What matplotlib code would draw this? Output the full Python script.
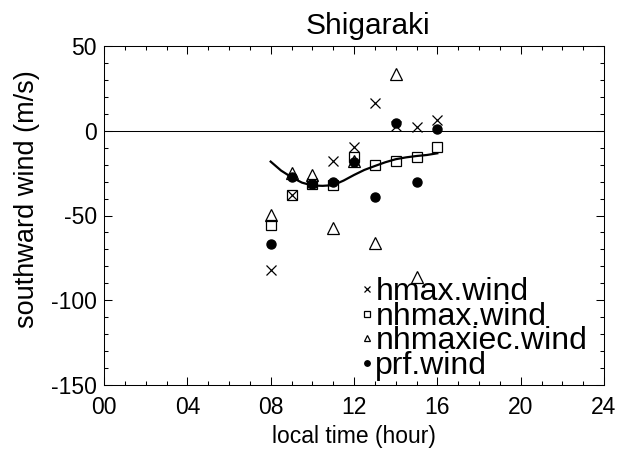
import numpy as np
import matplotlib.pyplot as plt
from matplotlib.ticker import MultipleLocator, FuncFormatter

plt.rcParams['font.family'] = ['Liberation Sans', 'DejaVu Sans']
plt.rcParams['axes.unicode_minus'] = False

# local time of each measurement (hour)
hours = [8, 9, 10, 11, 12, 13, 14, 15, 16]
hmax_wind = [-82, -38, -31, -17.6, -9.4, 16.5, 2.8, 2.0, 6.3]
nhmax_wind = [-55.5, -38, -31.4, -32.1, -15.6, -20.4, -17.6, -15.3, -9.4]
nhmaxiec_wind = [-49.6, -25, -26, -57.4, -18, -66.3, 33.2, -86.5, np.nan]
prf_wind = [-66.6, -27.4, -31.4, -30.0, -18.6, -39.2, 4.7, -30.4, 0.8]

# smoothed mean curve
fit_hours = [8, 8.5, 9, 9.5, 10, 10.5, 11, 11.5, 12, 12.5, 13, 13.5, 14, 14.5, 15, 15.5, 16]
fit_wind = [-18.2, -23.5, -27.4, -30.6, -32.3, -32.5, -32.1, -29.4, -26.1,
            -23.1, -20.8, -18.6, -16.8, -15.7, -14.9, -14.3, -13.3]

fig = plt.figure(figsize=(6.21, 4.5), dpi=100)
ax = fig.add_axes([104 / 621, 1 - 385 / 450, 500 / 621, 339 / 450])

ax.axhline(0, color='k', linewidth=0.75)
ax.plot(fit_hours, fit_wind, color='k', linewidth=1.6)

ax.plot(hours, nhmaxiec_wind, linestyle='none', marker='^', ms=8, mfc='white',
        mec='k', mew=0.9, label='nhmaxiec.wind', zorder=3)
ax.plot(hours, nhmax_wind, linestyle='none', marker='s', ms=6.5, mfc='none',
        mec='k', mew=0.9, label='nhmax.wind', zorder=4)
ax.plot(hours, prf_wind, linestyle='none', marker='o', ms=6.5, mfc='k',
        mec='k', label='prf.wind', zorder=5)
ax.plot(hours, hmax_wind, linestyle='none', marker='x', ms=7, color='k',
        mew=0.9, label='hmax.wind', zorder=6)

ax.set_xlim(0, 24)
ax.set_ylim(-150, 50)
ax.xaxis.set_major_locator(MultipleLocator(4))
ax.xaxis.set_minor_locator(MultipleLocator(1))
ax.yaxis.set_major_locator(MultipleLocator(50))
ax.yaxis.set_minor_locator(MultipleLocator(10))
ax.xaxis.set_major_formatter(FuncFormatter(lambda v, p: '%02d' % v))
ax.tick_params(which='both', direction='in', top=True, right=True, width=0.75)
ax.tick_params(which='major', length=6, labelsize=16.5)
ax.tick_params(which='minor', length=3)
ax.tick_params(axis='x', which='major', pad=8)
ax.tick_params(axis='y', which='major', pad=5)
for s in ax.spines.values():
    s.set_linewidth(0.75)

ax.set_xlabel('local time (hour)', fontsize=16.5, labelpad=4)
ax.set_ylabel('southward wind (m/s)', fontsize=19.5)
ax.yaxis.set_label_coords(-0.128, 0.549)
ax.set_title('Shigaraki', fontsize=21.5, pad=9, x=0.528)

h, l = ax.get_legend_handles_labels()
order = [3, 1, 0, 2]
ax.legend([h[i] for i in order], [l[i] for i in order], loc='lower left',
          bbox_to_anchor=((361 - 104) / 500, 0.012), frameon=False,
          fontsize=23, markerscale=0.6, handlelength=0.4, handletextpad=0.05,
          labelspacing=-0.17, borderpad=0, borderaxespad=0)

fig.savefig('out.png', dpi=100)
